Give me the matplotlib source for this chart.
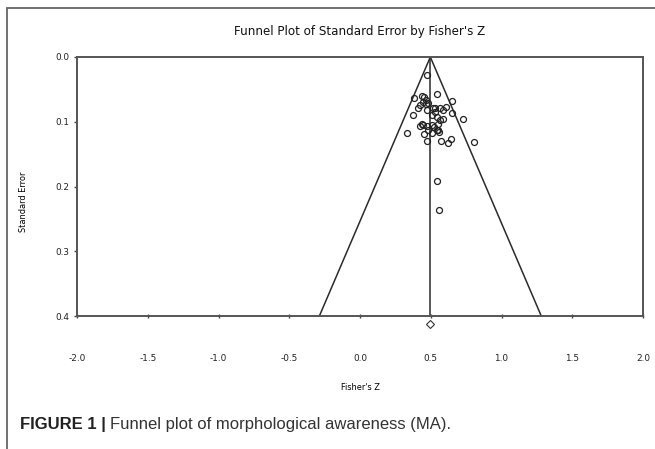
import matplotlib
matplotlib.use("Agg")
import matplotlib.pyplot as plt
from matplotlib import font_manager
from matplotlib.patches import Rectangle
import numpy as np

# study effects (Fisher's Z) and standard errors
fisher_z = [0.477, 0.382, 0.436, 0.453, 0.467, 0.448, 0.483, 0.424, 0.412, 0.467,
            0.542, 0.653, 0.608, 0.585, 0.566, 0.530, 0.477, 0.649, 0.372, 0.727,
            0.507, 0.542, 0.566, 0.585, 0.554, 0.526, 0.441, 0.424, 0.471, 0.507,
            0.542, 0.561, 0.483, 0.453, 0.334, 0.477, 0.573, 0.625, 0.641, 0.809,
            0.542, 0.559, 0.519, 0.530, 0.448, 0.554, 0.507]
std_err = [0.028, 0.064, 0.060, 0.062, 0.066, 0.069, 0.071, 0.074, 0.079, 0.072,
           0.057, 0.068, 0.077, 0.082, 0.079, 0.079, 0.082, 0.086, 0.090, 0.096,
           0.090, 0.093, 0.097, 0.096, 0.103, 0.108, 0.103, 0.107, 0.107, 0.105,
           0.112, 0.116, 0.113, 0.119, 0.117, 0.130, 0.130, 0.133, 0.127, 0.131,
           0.192, 0.236, 0.079, 0.085, 0.105, 0.113, 0.118]
pooled_z = 0.497
se_max = 0.4

x_ticks = [-2.0, -1.5, -1.0, -0.5, 0.0, 0.5, 1.0, 1.5, 2.0]
y_ticks = [0.0, 0.1, 0.2, 0.3, 0.4]

# narrow font if we have one, otherwise squeeze the default
names = set(f.name for f in font_manager.fontManager.ttflist)
if 'Liberation Sans Narrow' in names:
    narrow = ['Liberation Sans Narrow', 'DejaVu Sans']
    sc = 1.0
else:
    narrow = ['DejaVu Sans']
    sc = 0.85
plt.rcParams['font.family'] = narrow

fig = plt.figure(figsize=(6.55, 4.49), dpi=100)
ax = fig.add_axes([77/655, 1-316/449, 566/655, 259/449])

line_c = '#2b2b2b'
# funnel (95% limits) and centre line
ax.plot([pooled_z, pooled_z], [0, se_max], color=line_c, lw=1.1)
ax.plot([pooled_z - 1.96*se_max, pooled_z, pooled_z + 1.96*se_max],
        [se_max, 0, se_max], color=line_c, lw=1.1)

ax.plot(fisher_z, std_err, 'o', ms=4.3, mfc='none', mec='#222222', mew=0.9)
ax.plot([pooled_z], [se_max + 0.012], 'D', ms=3.6, mfc='white', mec='#333333',
        mew=0.8, clip_on=False)

ax.set_xlim(-2.0, 2.0)
ax.set_ylim(0.4, 0.0)
ax.set_xticks(x_ticks)
ax.set_yticks(y_ticks)
ax.set_xticklabels(['%.1f' % v for v in x_ticks])
ax.set_yticklabels(['%.1f' % v for v in y_ticks])
ax.tick_params(axis='x', direction='inout', length=3, width=1, color='#444444',
               pad=26, labelsize=7.5*sc, labelcolor='#222222')
ax.tick_params(axis='y', direction='out', length=2.5, width=1, color='#444444',
               pad=3, labelsize=7.5*sc, labelcolor='#222222')
for s in ax.spines.values():
    s.set_color('#555555')
    s.set_linewidth(1.4)

ax.set_xlabel("Fisher's Z", fontsize=7*sc)
ax.xaxis.set_label_coords(0.5, -0.259)
ax.set_ylabel('Standard Error', fontsize=7*sc)
ax.yaxis.set_label_coords(-0.087, 0.44)
ax.text(0.5, 1.10, "Funnel Plot of Standard Error by Fisher's Z", transform=ax.transAxes,
        ha='center', va='center', fontsize=10.5*sc*0.96, color='#111111')

# outer frame of the figure panel
fig.patches.append(Rectangle((7/655, -0.1), 1.2, 1 - 8/449 + 0.1, transform=fig.transFigure,
                             fill=False, edgecolor='#666666', lw=1.3))

# caption
cap_y = 1 - 425/449
t1 = fig.text(20/655, cap_y, 'FIGURE 1 |', fontsize=12, fontweight='bold',
              family=['Liberation Sans', 'DejaVu Sans'], color='#222222', va='center')
r = fig.canvas.get_renderer()
bb = t1.get_window_extent(renderer=r)
fig.text(bb.x1/fig.bbox.width + 4/655, cap_y, 'Funnel plot of morphological awareness (MA).',
         fontsize=12, family=['Liberation Sans', 'DejaVu Sans'], color='#333333', va='center')

fig.savefig('out.png', dpi=100)
